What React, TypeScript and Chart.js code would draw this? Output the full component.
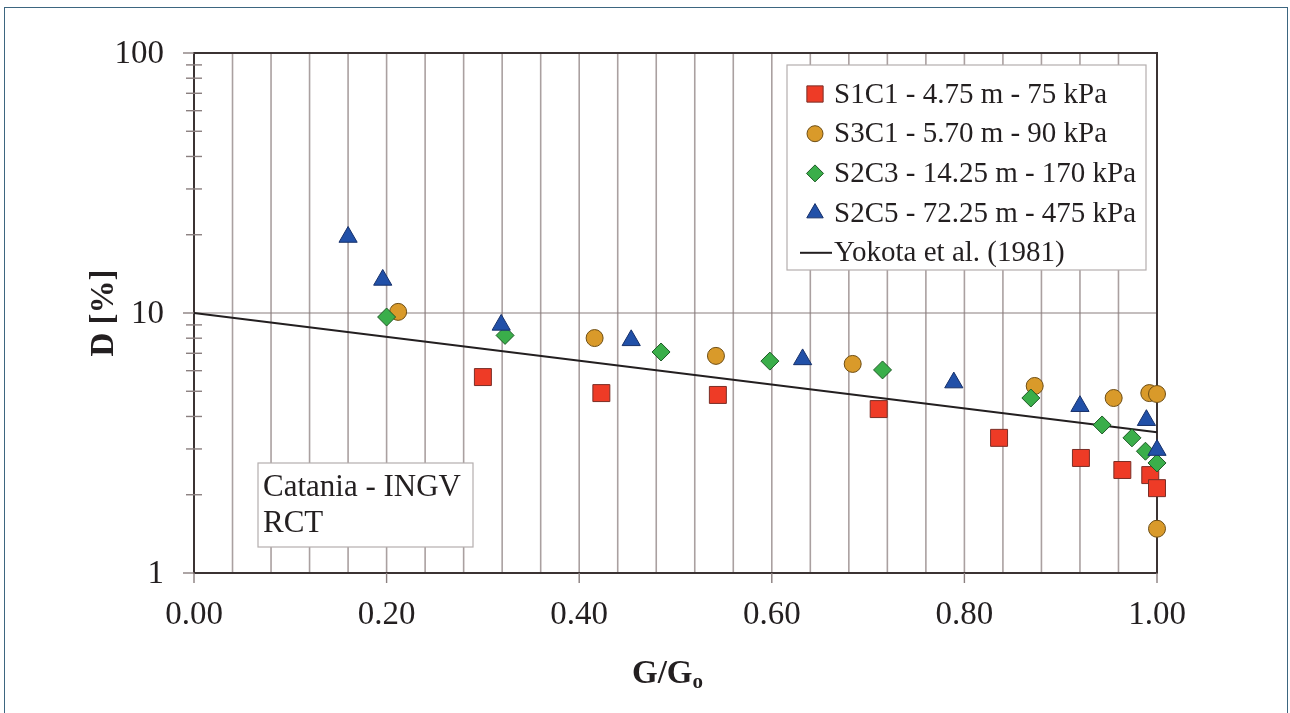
import React, { useEffect, useRef } from "react";
import { Chart, registerables } from "chart.js";

Chart.register(...registerables);

// Damping ratio D [%] versus normalised shear modulus G/Go
const s1c1X = [0.300, 0.423, 0.544, 0.711, 0.836, 0.921, 0.964, 0.993, 1.000];
const s1c1D = [5.67, 4.92, 4.84, 4.27, 3.31, 2.77, 2.49, 2.38, 2.12];

const s3c1X = [0.212, 0.416, 0.542, 0.684, 0.873, 0.955, 0.992, 1.000, 1.000];
const s3c1D = [10.1, 8.01, 6.84, 6.37, 5.24, 4.71, 4.92, 4.88, 1.48];

const s2c3X = [0.200, 0.323, 0.485, 0.598, 0.715, 0.869, 0.943, 0.974, 0.988, 1.000];
const s2c3D = [9.65, 8.2, 7.08, 6.53, 6.04, 4.71, 3.71, 3.31, 2.94, 2.65];

const s2c5X = [0.160, 0.196, 0.319, 0.454, 0.632, 0.789, 0.920, 0.989, 1.000];
const s2c5D = [19.6, 13.4, 9.0, 7.85, 6.63, 5.4, 4.38, 3.87, 2.97];

const yokotaX = [0, 1];
const yokotaD = [10, 3.48];

const seriesNames = [
  "S1C1 - 4.75 m - 75 kPa",
  "S3C1 - 5.70 m - 90 kPa",
  "S2C3 - 14.25 m - 170 kPa",
  "S2C5 - 72.25 m - 475 kPa",
  "Yokota et al. (1981)",
];

const xTickValues = [0, 0.2, 0.4, 0.6, 0.8, 1.0];
const xTickLabels = ["0.00", "0.20", "0.40", "0.60", "0.80", "1.00"];
const xGridStep = 0.04;
const yTickValues = [1, 10, 100];
const yTickLabels = ["1", "10", "100"];
const yMinorValues = [2, 3, 4, 5, 6, 7, 8, 9, 20, 30, 40, 50, 60, 70, 80, 90];

const noteLines = ["Catania - INGV", "RCT"];

const SERIF = '"Liberation Serif", "Times New Roman", serif';
const GRID = "#aaa0a0";
const AXIS = "#3b3333";
const TEXT = "#231f20";
const BOX = "#b4aeae";

const toPoints = (xs: number[], ys: number[]) => xs.map((x, i) => ({ x, y: ys[i] }));

function drawMarker(
  ctx: CanvasRenderingContext2D,
  style: string,
  x: number,
  y: number,
  r: number,
  fill: string,
  stroke: string
) {
  ctx.beginPath();
  if (style === "rect") {
    const h = r * Math.SQRT1_2;
    ctx.rect(x - h, y - h, 2 * h, 2 * h);
  } else if (style === "circle") {
    ctx.arc(x, y, r, 0, Math.PI * 2);
  } else if (style === "rectRot") {
    ctx.moveTo(x, y - r);
    ctx.lineTo(x + r, y);
    ctx.lineTo(x, y + r);
    ctx.lineTo(x - r, y);
    ctx.closePath();
  } else if (style === "triangle") {
    ctx.moveTo(x, y - r);
    ctx.lineTo(x + r * 0.866, y + r * 0.5);
    ctx.lineTo(x - r * 0.866, y + r * 0.5);
    ctx.closePath();
  }
  ctx.fillStyle = fill;
  ctx.fill();
  ctx.lineWidth = 1;
  ctx.strokeStyle = stroke;
  ctx.stroke();
}

const axesPlugin = {
  id: "axesFrame",
  beforeDatasetsDraw(chart: any) {
    const { ctx, chartArea: a, scales } = chart;
    const xs = scales.x;
    const ys = scales.y;
    const seg = (x1: number, y1: number, x2: number, y2: number) => {
      ctx.beginPath();
      ctx.moveTo(x1, y1);
      ctx.lineTo(x2, y2);
      ctx.stroke();
    };
    ctx.save();

    // vertical grid every 0.04
    ctx.strokeStyle = GRID;
    ctx.lineWidth = 1.6;
    for (let v = xGridStep; v < 1 - 1e-9; v += xGridStep) {
      const px = xs.getPixelForValue(v);
      seg(px, a.top, px, a.bottom);
    }
    // horizontal major grid
    ctx.strokeStyle = "#8a7f7f";
    ctx.lineWidth = 1.2;
    const y10 = ys.getPixelForValue(10);
    seg(a.left, y10, a.right, y10);

    // note box
    ctx.fillStyle = "#ffffff";
    ctx.fillRect(258, 463, 215, 84);
    ctx.strokeStyle = BOX;
    ctx.lineWidth = 1.2;
    ctx.strokeRect(258, 463, 215, 84);
    ctx.fillStyle = TEXT;
    ctx.font = `31px ${SERIF}`;
    ctx.textAlign = "left";
    ctx.textBaseline = "middle";
    ctx.fillText(noteLines[0], 263, 488);
    ctx.fillText(noteLines[1], 263, 524);

    // plot frame
    ctx.strokeStyle = AXIS;
    ctx.lineWidth = 2;
    ctx.strokeRect(a.left, a.top, a.right - a.left, a.bottom - a.top);

    // y ticks
    ctx.lineWidth = 1.4;
    ctx.strokeStyle = "#8a7f7f";
    yMinorValues.forEach((v) => {
      const py = ys.getPixelForValue(v);
      seg(a.left - 8, py, a.left + 8, py);
    });
    yTickValues.forEach((v) => {
      const py = ys.getPixelForValue(v);
      seg(a.left - 11, py, a.left, py);
    });
    // x ticks
    xTickValues.forEach((v) => {
      const px = xs.getPixelForValue(v);
      seg(px, a.bottom, px, a.bottom + 10);
    });

    // tick labels
    ctx.fillStyle = TEXT;
    ctx.font = `33px ${SERIF}`;
    ctx.textAlign = "right";
    ctx.textBaseline = "middle";
    yTickValues.forEach((v, i) => {
      ctx.fillText(yTickLabels[i], a.left - 30, ys.getPixelForValue(v) + 1);
    });
    ctx.textAlign = "center";
    xTickValues.forEach((v, i) => {
      ctx.fillText(xTickLabels[i], xs.getPixelForValue(v), a.bottom + 42);
    });

    // axis titles
    ctx.font = `bold 33px ${SERIF}`;
    ctx.save();
    ctx.translate(104, (a.top + a.bottom) / 2 + 0);
    ctx.rotate(-Math.PI / 2);
    ctx.textAlign = "center";
    ctx.fillText("D [%]", 0, 0);
    ctx.restore();

    const main = "G/G";
    const mainW = ctx.measureText(main).width;
    ctx.font = `bold 21px ${SERIF}`;
    const subW = ctx.measureText("o").width;
    const startX = (a.left + a.right) / 2 - (mainW + subW) / 2 - 8;
    ctx.textAlign = "left";
    ctx.font = `bold 33px ${SERIF}`;
    ctx.fillText(main, startX, 674);
    ctx.font = `bold 21px ${SERIF}`;
    ctx.fillText("o", startX + mainW, 683);

    // legend
    const lx = 787, ly = 65, lw = 359, lh = 205;
    ctx.fillStyle = "#ffffff";
    ctx.fillRect(lx, ly, lw, lh);
    ctx.strokeStyle = BOX;
    ctx.lineWidth = 1.2;
    ctx.strokeRect(lx, ly, lw, lh);
    ctx.font = `29px ${SERIF}`;
    ctx.textAlign = "left";
    ctx.textBaseline = "middle";
    const legendSizes = [11.5, 8, 8.5, 9.5];
    chart.data.datasets.forEach((ds: any, i: number) => {
      const rowY = 94 + i * 39.7;
      if (ds.showLine) {
        ctx.strokeStyle = ds.borderColor;
        ctx.lineWidth = 2;
        seg(800, rowY, 832, rowY);
      } else {
        drawMarker(ctx, ds.pointStyle, 815, rowY, legendSizes[i], ds.backgroundColor, ds.borderColor);
      }
      ctx.fillStyle = TEXT;
      ctx.fillText(ds.label, 834, rowY + 1);
    });

    ctx.restore();
  },
};

export default function App() {
  const canvasRef = useRef<HTMLCanvasElement | null>(null);

  useEffect(() => {
    const canvas = canvasRef.current;
    if (!canvas) return;
    const chart = new Chart(canvas, {
      type: "scatter",
      data: {
        datasets: [
          {
            label: seriesNames[0],
            data: toPoints(s1c1X, s1c1D),
            pointStyle: "rect",
            pointRadius: 12,
            backgroundColor: "#ee3b26",
            borderColor: "#7a2e26",
            borderWidth: 1,
            order: 4,
            clip: false,
          },
          {
            label: seriesNames[1],
            data: toPoints(s3c1X, s3c1D),
            pointStyle: "circle",
            pointRadius: 8.5,
            backgroundColor: "#d99a2a",
            borderColor: "#6e4e14",
            borderWidth: 1,
            order: 3,
            clip: false,
          },
          {
            label: seriesNames[2],
            data: toPoints(s2c3X, s2c3D),
            pointStyle: "rectRot",
            pointRadius: 9,
            backgroundColor: "#3aae4a",
            borderColor: "#1e5a26",
            borderWidth: 1,
            order: 2,
            clip: false,
          },
          {
            label: seriesNames[3],
            data: toPoints(s2c5X, s2c5D),
            pointStyle: "triangle",
            pointRadius: 10.5,
            backgroundColor: "#2150a8",
            borderColor: "#16306a",
            borderWidth: 1,
            order: 1,
            clip: false,
          },
          {
            type: "line",
            label: seriesNames[4],
            data: toPoints(yokotaX, yokotaD),
            showLine: true,
            pointRadius: 0,
            borderColor: "#231f20",
            borderWidth: 2,
            order: 5,
            clip: false,
          } as any,
        ],
      },
      options: {
        responsive: false,
        animation: false,
        events: [],
        layout: { padding: { left: 194, right: 133, top: 53, bottom: 140 } },
        scales: {
          x: { type: "linear", min: 0, max: 1, display: false },
          y: { type: "logarithmic", min: 1, max: 100, display: false },
        },
        plugins: {
          legend: { display: false },
          tooltip: { enabled: false },
        },
      },
      plugins: [axesPlugin],
    });
    return () => chart.destroy();
  }, []);

  return (
    <div style={{ position: "fixed", left: 0, top: 0, width: 1290, height: 713, background: "#ffffff", overflow: "hidden" }}>
      <div
        style={{
          position: "absolute",
          left: 4,
          top: 7,
          width: 1284,
          height: 720,
          border: "1.5px solid #3d6680",
          boxSizing: "border-box",
        }}
      />
      <canvas ref={canvasRef} width={1290} height={713} style={{ position: "absolute", left: 0, top: 0 }} />
    </div>
  );
}
